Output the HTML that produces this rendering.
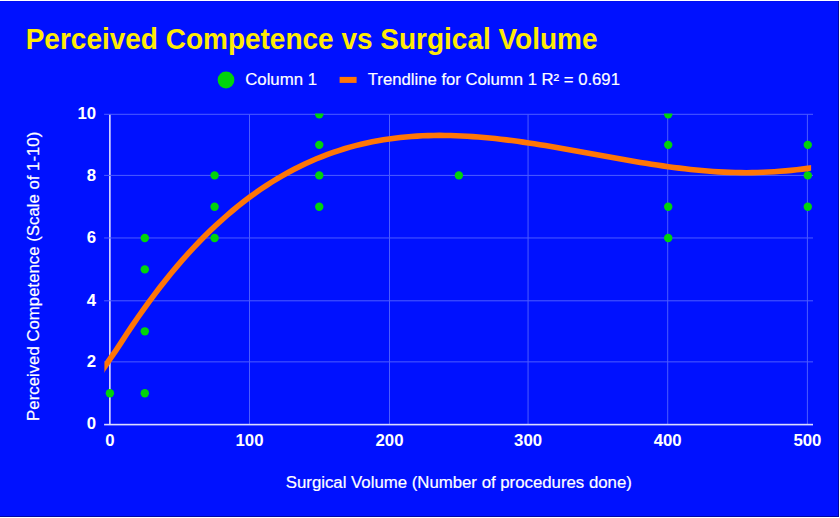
<!DOCTYPE html>
<html><head><meta charset="utf-8"><title>Perceived Competence vs Surgical Volume</title>
<style>
html,body{margin:0;padding:0;background:#fff;}
body{width:840px;height:518px;overflow:hidden;font-family:"Liberation Sans",Arial,sans-serif;}
svg{display:block}
text{font-family:"Liberation Sans",Arial,sans-serif;}
text.w{fill:#fff;stroke:#fff;stroke-width:0.2px;}
</style></head><body>
<svg width="840" height="518" viewBox="0 0 840 518">
<defs><clipPath id="dots"><rect x="104.4" y="113.6" width="707.8" height="316.4"/></clipPath><clipPath id="plot"><rect x="104.4" y="113.6" width="706.7" height="316.4"/></clipPath></defs>
<rect x="0" y="0" width="840" height="518" fill="#ffffff"/>
<rect x="0" y="1" width="839" height="516" fill="#0011ff"/>
<rect x="0" y="1" width="839" height="1" fill="#000ef0"/>
<rect x="0" y="516" width="839" height="1" fill="#0008a0"/>
<rect x="838" y="1" width="1" height="516" fill="#0008a0"/>

<text transform="translate(25.7,49.3) scale(1,1.03)" font-size="28" font-weight="bold" fill="#ffea05">Perceived Competence vs Surgical Volume</text>
<circle cx="226" cy="80" r="8.4" fill="#00d40a"/>
<text x="245.2" y="84.9" font-size="16.8" class="w">Column 1</text>
<rect x="339.6" y="76.9" width="17" height="6" fill="#ff7606"/>
<text x="367.8" y="84.9" font-size="16.7" class="w">Trendline for Column 1 R² = 0.691</text>
<rect x="249.00" y="114.3" width="1" height="310.30" fill="#4c5cff"/>
<rect x="389.00" y="114.3" width="1" height="310.30" fill="#4c5cff"/>
<rect x="527.55" y="114.3" width="1" height="310.30" fill="#4c5cff"/>
<rect x="667.20" y="114.3" width="1" height="310.30" fill="#4c5cff"/>
<rect x="806.90" y="114.3" width="1" height="310.30" fill="#4c5cff"/>
<rect x="109.06" y="114.3" width="1.6" height="310.30" fill="#dcdcff"/>
<rect x="104.1" y="361.35" width="708.9" height="1" fill="#4c5cff"/>
<rect x="104.1" y="300.30" width="708.9" height="1" fill="#4c5cff"/>
<rect x="104.1" y="237.46" width="708.9" height="1" fill="#4c5cff"/>
<rect x="104.1" y="174.90" width="708.9" height="1" fill="#4c5cff"/>
<rect x="104.1" y="113.80" width="708.9" height="1" fill="#4c5cff"/>
<rect x="104.1" y="423.80" width="708.9" height="1.6" fill="#dcdcff"/>
<text x="96.2" y="429.10" font-size="16.8" font-weight="bold" fill="#ffffff" text-anchor="end">0</text>
<text x="96.2" y="367.20" font-size="16.8" font-weight="bold" fill="#ffffff" text-anchor="end">2</text>
<text x="96.2" y="305.50" font-size="16.8" font-weight="bold" fill="#ffffff" text-anchor="end">4</text>
<text x="96.2" y="242.90" font-size="16.8" font-weight="bold" fill="#ffffff" text-anchor="end">6</text>
<text x="96.2" y="181.30" font-size="16.8" font-weight="bold" fill="#ffffff" text-anchor="end">8</text>
<text x="96.2" y="119.10" font-size="16.8" font-weight="bold" fill="#ffffff" text-anchor="end">10</text>
<text x="109.86" y="445.8" font-size="16.8" font-weight="bold" fill="#ffffff" text-anchor="middle">0</text>
<text x="249.50" y="445.8" font-size="16.8" font-weight="bold" fill="#ffffff" text-anchor="middle">100</text>
<text x="389.50" y="445.8" font-size="16.8" font-weight="bold" fill="#ffffff" text-anchor="middle">200</text>
<text x="528.05" y="445.8" font-size="16.8" font-weight="bold" fill="#ffffff" text-anchor="middle">300</text>
<text x="667.70" y="445.8" font-size="16.8" font-weight="bold" fill="#ffffff" text-anchor="middle">400</text>
<text x="807.40" y="445.8" font-size="16.8" font-weight="bold" fill="#ffffff" text-anchor="middle">500</text>
<text x="458.8" y="487.6" font-size="16.8" class="w" text-anchor="middle">Surgical Volume (Number of procedures done)</text>
<text transform="translate(39.3,276.3) rotate(-90)" font-size="16.8" class="w" text-anchor="middle">Perceived Competence (Scale of 1-10)</text>
<circle cx="109.90" cy="393.23" r="4.2" fill="#00d40a" clip-path="url(#dots)"/>
<circle cx="144.80" cy="393.23" r="4.2" fill="#00d40a" clip-path="url(#dots)"/>
<circle cx="144.80" cy="331.33" r="4.2" fill="#00d40a" clip-path="url(#dots)"/>
<circle cx="144.80" cy="269.38" r="4.2" fill="#00d40a" clip-path="url(#dots)"/>
<circle cx="144.80" cy="237.96" r="4.2" fill="#00d40a" clip-path="url(#dots)"/>
<circle cx="214.58" cy="237.96" r="4.2" fill="#00d40a" clip-path="url(#dots)"/>
<circle cx="214.58" cy="206.68" r="4.2" fill="#00d40a" clip-path="url(#dots)"/>
<circle cx="214.58" cy="175.40" r="4.2" fill="#00d40a" clip-path="url(#dots)"/>
<circle cx="319.27" cy="206.68" r="4.2" fill="#00d40a" clip-path="url(#dots)"/>
<circle cx="319.27" cy="175.40" r="4.2" fill="#00d40a" clip-path="url(#dots)"/>
<circle cx="319.27" cy="144.85" r="4.2" fill="#00d40a" clip-path="url(#dots)"/>
<circle cx="319.27" cy="114.30" r="4.2" fill="#00d40a" clip-path="url(#dots)"/>
<circle cx="458.85" cy="175.40" r="4.2" fill="#00d40a" clip-path="url(#dots)"/>
<circle cx="668.22" cy="237.96" r="4.2" fill="#00d40a" clip-path="url(#dots)"/>
<circle cx="668.22" cy="206.68" r="4.2" fill="#00d40a" clip-path="url(#dots)"/>
<circle cx="668.22" cy="144.85" r="4.2" fill="#00d40a" clip-path="url(#dots)"/>
<circle cx="668.22" cy="114.30" r="4.2" fill="#00d40a" clip-path="url(#dots)"/>
<circle cx="807.80" cy="206.68" r="4.2" fill="#00d40a" clip-path="url(#dots)"/>
<circle cx="807.80" cy="175.40" r="4.2" fill="#00d40a" clip-path="url(#dots)"/>
<circle cx="807.80" cy="144.85" r="4.2" fill="#00d40a" clip-path="url(#dots)"/>
<path d="M98.73,375.84 L104.32,367.34 L109.90,359.08 L115.48,351.05 L121.07,342.68 L126.65,334.06 L132.23,325.67 L137.82,317.50 L143.40,309.56 L148.98,301.83 L154.57,294.33 L160.15,287.04 L165.73,279.95 L171.32,273.08 L176.90,266.42 L182.48,259.95 L188.06,253.69 L193.65,247.63 L199.23,241.76 L204.81,236.08 L210.40,230.60 L215.98,225.30 L221.56,220.19 L227.15,215.25 L232.73,210.50 L238.31,205.92 L243.90,201.52 L249.48,197.28 L255.06,193.22 L260.65,189.32 L266.23,185.58 L271.81,182.00 L277.40,178.58 L282.98,175.31 L288.56,172.20 L294.15,169.23 L299.73,166.41 L305.31,163.73 L310.90,161.20 L316.48,158.80 L322.06,156.54 L327.64,154.41 L333.23,152.40 L338.81,150.53 L344.39,148.78 L349.98,147.15 L355.56,145.65 L361.14,144.25 L366.73,142.97 L372.31,141.81 L377.89,140.75 L383.48,139.79 L389.06,138.94 L394.64,138.18 L400.23,137.53 L405.81,136.97 L411.39,136.50 L416.98,136.11 L422.56,135.82 L428.14,135.61 L433.73,135.48 L439.31,135.42 L444.89,135.45 L450.48,135.54 L456.06,135.70 L461.64,135.94 L467.22,136.23 L472.81,136.59 L478.39,137.00 L483.97,137.48 L489.56,138.00 L495.14,138.58 L500.72,139.20 L506.31,139.87 L511.89,140.58 L517.47,141.33 L523.06,142.12 L528.64,142.95 L534.22,143.80 L539.81,144.68 L545.39,145.59 L550.97,146.53 L556.56,147.48 L562.14,148.45 L567.72,149.44 L573.31,150.44 L578.89,151.44 L584.47,152.46 L590.06,153.48 L595.64,154.50 L601.22,155.52 L606.80,156.54 L612.39,157.55 L617.97,158.55 L623.55,159.53 L629.14,160.51 L634.72,161.46 L640.30,162.40 L645.89,163.31 L651.47,164.20 L657.05,165.06 L662.64,165.88 L668.22,166.68 L673.80,167.43 L679.39,168.15 L684.97,168.82 L690.55,169.45 L696.14,170.04 L701.72,170.57 L707.30,171.05 L712.89,171.47 L718.47,171.84 L724.05,172.14 L729.64,172.38 L735.22,172.55 L740.80,172.66 L746.38,172.69 L751.97,172.64 L757.55,172.52 L763.13,172.32 L768.72,172.04 L774.30,171.67 L779.88,171.21 L785.47,170.84 L791.05,170.37 L796.63,169.81 L802.22,169.15 L807.80,168.39 L813.38,167.52 L818.97,166.55" fill="none" stroke="#ff7606" stroke-width="5.6" stroke-linejoin="round" clip-path="url(#plot)"/>
</svg></body></html>
